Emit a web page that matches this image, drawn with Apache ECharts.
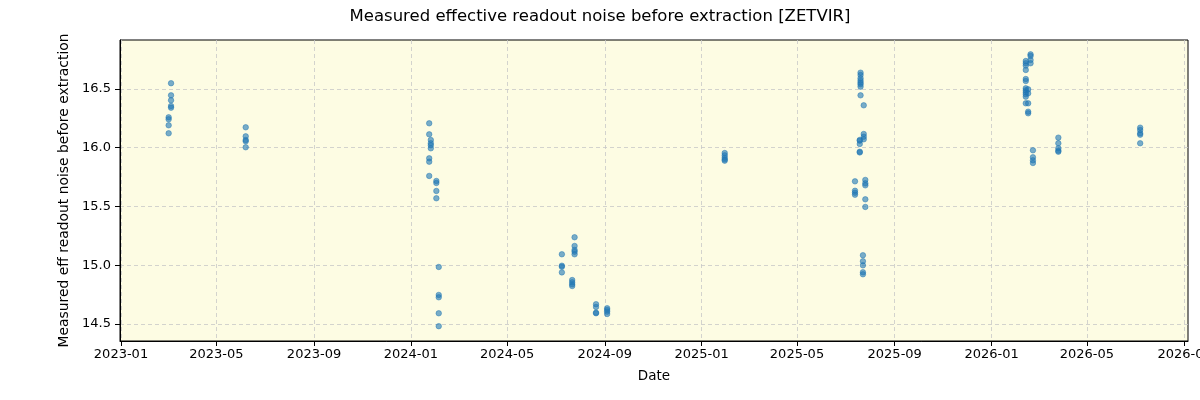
<!DOCTYPE html>
<html>
<head>
<meta charset="utf-8">
<title>Measured effective readout noise before extraction [ZETVIR]</title>
<script src="https://cdn.jsdelivr.net/npm/echarts@6/dist/echarts.min.js"></script>
<style>
  html, body { margin: 0; padding: 0; background: #ffffff; }
  #chart { width: 1200px; height: 400px; }
</style>
</head>
<body>
<div id="chart"></div>
<script>
// observation dates (one entry per group of points)
const obsDates = [
  '2023-03-05', '2023-03-02', '2023-06-07',
  '2024-01-24', '2024-01-26', '2024-02-02', '2024-02-05',
  '2024-07-09', '2024-07-25', '2024-07-22', '2024-08-21', '2024-09-04',
  '2025-01-30',
  '2025-07-20', '2025-07-24', '2025-07-19', '2025-07-13', '2025-07-26', '2025-07-23',
  '2026-02-19', '2026-02-13', '2026-02-16', '2026-02-22', '2026-03-26',
  '2026-07-07'
]

// measured noise values for each date above
const noiseValues = [
  [16.549, 16.446, 16.404, 16.355, 16.341],
  [16.259, 16.242, 16.191, 16.123],
  [16.174, 16.097, 16.066, 16.055, 16.004],
  [16.208, 16.114, 15.910, 15.881, 15.760],
  [16.066, 16.038, 16.021, 15.995],
  [15.717, 15.700, 15.632, 15.570],
  [14.985, 14.747, 14.727, 14.591, 14.481],
  [15.093, 14.996, 14.987, 14.939],
  [15.238, 15.164, 15.130, 15.115, 15.093],
  [14.874, 14.855, 14.838, 14.823],
  [14.668, 14.645, 14.596, 14.591],
  [14.634, 14.619, 14.605, 14.585],
  [15.955, 15.935, 15.915, 15.900, 15.890],
  [16.639, 16.619, 16.591, 16.571, 16.554, 16.540, 16.520, 16.446],
  [16.361, 16.117, 16.094, 16.072],
  [16.066, 16.060, 16.032, 15.966, 15.960],
  [15.714, 15.634, 15.617, 15.600],
  [15.726, 15.697, 15.680, 15.561, 15.496],
  [15.085, 15.034, 14.999, 14.940, 14.923],
  [16.795, 16.781, 16.747, 16.719],
  [16.738, 16.719, 16.699, 16.662, 16.585, 16.568, 16.506, 16.489, 16.472, 16.455, 16.435, 16.378],
  [16.497, 16.463, 16.378, 16.307, 16.293],
  [15.978, 15.919, 15.893, 15.870],
  [16.086, 16.038, 15.995, 15.975, 15.966],
  [16.171, 16.151, 16.123, 16.111, 16.038]
]

// tick labels
const xTicks = [
  '2023-01', '2023-05', '2023-09', '2024-01', '2024-05', '2024-09',
  '2025-01', '2025-05', '2025-09', '2026-01', '2026-05', '2026-09'
]
const yTicks = [14.5, 15.0, 15.5, 16.0, 16.5]

// axis ranges
const xRange = ['2022-12-30T18:00:00Z', '2026-09-05T05:00:00Z']
const yRange = [14.355, 16.917]

const toMs = s => Date.parse(s.length === 7 ? s + '-01T00:00:00Z' : (s.length === 10 ? s + 'T00:00:00Z' : s))
const pad = n => (n < 10 ? '0' : '') + n

// build [time, value] pairs
const points = []
obsDates.forEach((d, i) => {
  noiseValues[i].forEach(v => points.push([toMs(d), v]))
})

const chart = echarts.init(document.getElementById('chart'), null, { renderer: 'canvas' })
const font = 'DejaVu Sans'
const gridLine = { show: true, lineStyle: { color: '#c8c8c8', type: [4, 3], width: 0.8 } }

chart.setOption({
  animation: false,
  title: {
    text: 'Measured effective readout noise before extraction [ZETVIR]',
    left: 'center',
    top: 3,
    textStyle: { fontFamily: font, fontSize: 16.5, fontWeight: 'normal', color: '#000' }
  },
  grid: {
    left: 120, right: 12, top: 40, bottom: 59,
    outerBoundsMode: 'none',
    containLabel: false,
    show: true,
    backgroundColor: '#fdfce3',
    borderColor: '#000',
    borderWidth: 1
  },
  xAxis: {
    type: 'value',
    min: toMs(xRange[0]),
    max: toMs(xRange[1]),
    name: 'Date',
    nameLocation: 'middle',
    nameGap: 28,
    nameTextStyle: { fontFamily: font, fontSize: 13.5, color: '#000' },
    axisLine: { show: true, onZero: false, lineStyle: { color: '#000' } },
    axisTick: {
      show: true, length: 5, inside: false,
      lineStyle: { color: '#000' },
      customValues: xTicks.map(toMs)
    },
    axisLabel: {
      fontFamily: font, fontSize: 13, color: '#000', margin: 7,
      customValues: xTicks.map(toMs),
      formatter: v => {
        const d = new Date(v)
        return d.getUTCFullYear() + '-' + pad(d.getUTCMonth() + 1)
      }
    },
    splitLine: gridLine
  },
  yAxis: {
    type: 'value',
    min: yRange[0],
    max: yRange[1],
    name: 'Measured eff readout noise before extraction',
    nameLocation: 'middle',
    nameGap: 42,
    nameTextStyle: { fontFamily: font, fontSize: 13.9, color: '#000' },
    axisLine: { show: true, lineStyle: { color: '#000' } },
    axisTick: {
      show: true, length: 5,
      lineStyle: { color: '#000' },
      customValues: yTicks
    },
    axisLabel: {
      fontFamily: font, fontSize: 13, color: '#000', margin: 9,
      customValues: yTicks,
      formatter: v => v.toFixed(1)
    },
    splitLine: gridLine
  },
  series: [{
    type: 'scatter',
    data: points,
    symbolSize: 5.5,
    itemStyle: {
      color: '#1f77b4',
      borderColor: '#1f77b4',
      borderWidth: 0.8,
      opacity: 0.6
    }
  }]
})
</script>
</body>
</html>
